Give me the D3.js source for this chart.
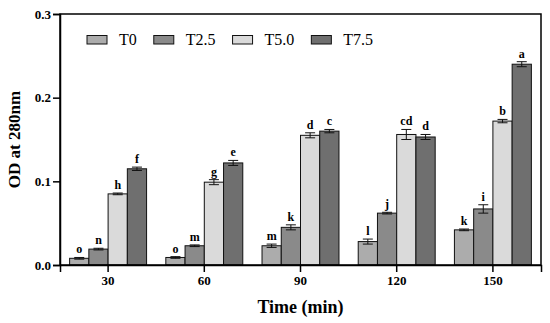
<!DOCTYPE html>
<html><head><meta charset="utf-8">
<script src="https://cdn.jsdelivr.net/npm/d3@7"></script>
<style>body{margin:0;background:#fff}</style>
</head><body>
<svg id="c" width="550" height="323"></svg>
<script>
const times = ["30","60","90","120","150"];
const series = ["T0","T2.5","T5.0","T7.5"];
const colors = ["#acacac","#8a8a8a","#dadada","#6f6f6f"];
const T0   = [0.008, 0.009, 0.023, 0.028, 0.042];
const T25  = [0.019, 0.023, 0.045, 0.062, 0.067];
const T50  = [0.085, 0.099, 0.155, 0.156, 0.172];
const T75  = [0.115, 0.122, 0.160, 0.153, 0.240];
const errT0  = [0.001, 0.001, 0.002, 0.003, 0.001];
const errT25 = [0.001, 0.001, 0.003, 0.001, 0.005];
const errT50 = [0.001, 0.003, 0.003, 0.006, 0.002];
const errT75 = [0.002, 0.003, 0.002, 0.003, 0.003];
const lettersT0  = ["o","o","m","l","k"];
const lettersT25 = ["n","m","k","j","i"];
const lettersT50 = ["h","g","d","cd","b"];
const lettersT75 = ["f","e","c","d","a"];
const yTicks = [0.0, 0.1, 0.2, 0.3];

const vals = [T0, T25, T50, T75];
const errs = [errT0, errT25, errT50, errT75];
const lets = [lettersT0, lettersT25, lettersT50, lettersT75];

const svg = d3.select("#c");
const L = 60, R = 541, T = 14, B = 265;
const font = "'Liberation Serif','Times New Roman',serif";

const x0 = d3.scaleBand().domain(times).range([L, R]).paddingInner(0.2).paddingOuter(0.1);
const x1 = d3.scaleBand().domain(series).range([0, x0.bandwidth()]);
const y = d3.scaleLinear().domain([0, 0.3]).range([B, T]);

const data = [];
times.forEach((t, i) => series.forEach((s, j) => data.push({t, s, j, v: vals[j][i], e: errs[j][i], l: lets[j][i]})));

const g = svg.append("g");
g.selectAll("rect.bar").data(data).enter().append("rect")
  .attr("x", d => x0(d.t) + x1(d.s))
  .attr("y", d => y(d.v))
  .attr("width", x1.bandwidth())
  .attr("height", d => y(0) - y(d.v))
  .attr("fill", d => colors[d.j])
  .attr("stroke", "#111").attr("stroke-width", 1);

// error bars
const eb = g.selectAll("g.eb").data(data).enter().append("g")
  .attr("stroke", "#111").attr("stroke-width", 1);
eb.append("line")
  .attr("x1", d => x0(d.t) + x1(d.s) + x1.bandwidth()/2)
  .attr("x2", d => x0(d.t) + x1(d.s) + x1.bandwidth()/2)
  .attr("y1", d => y(d.v + d.e)).attr("y2", d => y(d.v - d.e));
eb.append("line")
  .attr("x1", d => x0(d.t) + x1(d.s) + x1.bandwidth()/2 - 5)
  .attr("x2", d => x0(d.t) + x1(d.s) + x1.bandwidth()/2 + 5)
  .attr("y1", d => y(d.v + d.e)).attr("y2", d => y(d.v + d.e));
eb.append("line")
  .attr("x1", d => x0(d.t) + x1(d.s) + x1.bandwidth()/2 - 5)
  .attr("x2", d => x0(d.t) + x1(d.s) + x1.bandwidth()/2 + 5)
  .attr("y1", d => y(d.v - d.e)).attr("y2", d => y(d.v - d.e));

g.selectAll("text.lt").data(data).enter().append("text")
  .attr("x", d => x0(d.t) + x1(d.s) + x1.bandwidth()/2)
  .attr("y", d => y(d.v + d.e) - 4)
  .attr("text-anchor", "middle")
  .attr("font-family", font).attr("font-weight", "bold").attr("font-size", 12)
  .text(d => d.l);

// frame
svg.append("rect").attr("x", L).attr("y", T).attr("width", R - L).attr("height", B - T)
  .attr("fill", "none").attr("stroke", "#000").attr("stroke-width", 1.5);

// axes
const yAxis = svg.append("g").attr("transform", `translate(${L},0)`)
  .call(d3.axisLeft(y).tickValues(yTicks).tickFormat(d3.format(".1f")).tickSize(7).tickPadding(2));
const xAxis = svg.append("g").attr("transform", `translate(0,${B})`)
  .call(d3.axisBottom(x0).tickSize(7).tickPadding(4));
[yAxis, xAxis].forEach(a => {
  a.select(".domain").attr("stroke", "#000").attr("stroke-width", 1.5);
  a.selectAll(".tick line").attr("stroke", "#000").attr("stroke-width", 1.5);
  a.selectAll("text").attr("font-family", font).attr("font-weight", "bold").attr("font-size", 13).attr("fill", "#000");
});

// titles
svg.append("text").attr("x", (L + R)/2).attr("y", 313).attr("text-anchor", "middle")
  .attr("font-family", font).attr("font-weight", "bold").attr("font-size", 18).text("Time (min)");
svg.append("text").attr("transform", `translate(20,${(T+B)/2}) rotate(-90)`).attr("text-anchor", "middle")
  .attr("font-family", font).attr("font-weight", "bold").attr("font-size", 17).text("OD at 280nm");

// legend
const leg = svg.append("g");
let lx = 87;
series.forEach((s, j) => {
  leg.append("rect").attr("x", lx).attr("y", 35.5).attr("width", 20).attr("height", 8.5)
    .attr("fill", colors[j]).attr("stroke", "#111").attr("stroke-width", 1);
  const t = leg.append("text").attr("x", lx + 32).attr("y", 45)
    .attr("font-family", font).attr("font-size", 16).text(s);
  const w = t.node().getComputedTextLength();
  lx = lx + 32 + w + 17;
});
</script>
</body></html>
